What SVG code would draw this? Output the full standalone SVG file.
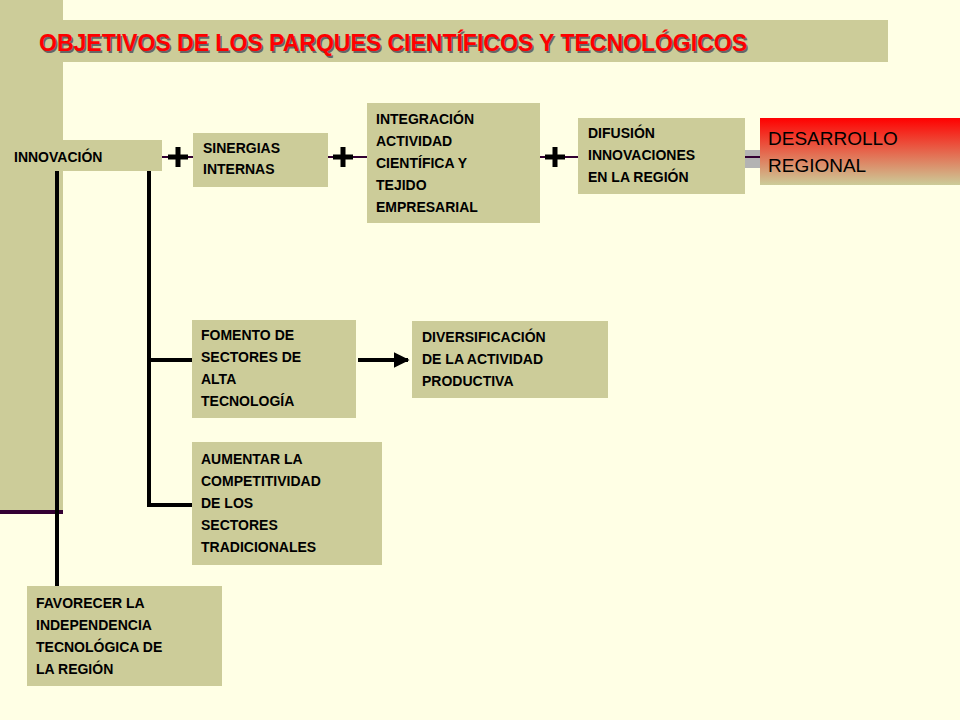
<svg xmlns="http://www.w3.org/2000/svg" width="960" height="720" viewBox="0 0 960 720">
<defs>
<style>
.b{fill:#CCCC99}
.t{font-family:"Liberation Sans",Arial,sans-serif;font-weight:bold;font-size:14px;fill:#000}
.c{stroke:#000;stroke-width:4;fill:none}
.p{stroke:#000;stroke-width:5}
</style>
<linearGradient id="g" x1="0" y1="0" x2="0" y2="1"><stop offset="0" stop-color="#FF0000"/><stop offset="1" stop-color="#CCCC99"/></linearGradient>
<marker id="a" viewBox="0 0 10 10" refX="9" refY="5" markerWidth="4" markerHeight="4" orient="auto"><path d="M0,0L10,5L0,10z" fill="#000"/></marker>
</defs>
<rect width="960" height="720" fill="#FFFFE5"/>
<rect x="0" y="0" width="63" height="512" class="b"/>
<line x1="0" y1="512" x2="63" y2="512" stroke="#330033" stroke-width="4"/>
<g id="title"><rect x="63" y="20" width="825" height="42" class="b"/>
<text x="39" y="51" font-family="Liberation Sans,Arial,sans-serif" font-weight="bold" font-size="23" fill="#666" transform="translate(1.5,1.5)">OBJETIVOS DE LOS PARQUES CIENTÍFICOS Y TECNOLÓGICOS</text>
<text x="39" y="51" font-family="Liberation Sans,Arial,sans-serif" font-weight="bold" font-size="23" fill="#FF0000">OBJETIVOS DE LOS PARQUES CIENTÍFICOS Y TECNOLÓGICOS</text></g>
<g id="connectors">
<line x1="57" y1="171" x2="57" y2="588" class="c"/>
<polyline points="149,171 149,360 192,360" class="c"/>
<polyline points="149,340 149,505 192,505" class="c"/>
<line x1="358" y1="360" x2="408" y2="360" class="c" marker-end="url(#a)"/>
<line x1="162" y1="157" x2="193" y2="157" stroke="#330033" stroke-width="2"/>
<line x1="328" y1="157" x2="367" y2="157" stroke="#330033" stroke-width="2"/>
<line x1="540" y1="157" x2="578" y2="157" stroke="#330033" stroke-width="2"/>
<rect x="745" y="150" width="15" height="18" fill="#B3B3B3"/>
<line x1="745" y1="157" x2="760" y2="157" stroke="#330033" stroke-width="2"/>
<path d="M168,157h20M178,147v20M333,157h20M343,147v20M545,157h20M555,147v20" class="p"/>
</g>
<g id="innovacion"><rect x="0" y="140" width="162" height="31" class="b"/><text class="t" x="14" y="162">INNOVACIÓN</text></g>
<g id="sinergias"><rect x="193" y="133" width="135" height="54" class="b"/><text class="t" x="203" y="153">SINERGIAS</text><text class="t" x="203" y="174">INTERNAS</text></g>
<g id="integracion"><rect x="367" y="103" width="173" height="120" class="b"/>
<text class="t" x="376" y="124">INTEGRACIÓN</text><text class="t" x="376" y="146">ACTIVIDAD</text><text class="t" x="376" y="168">CIENTÍFICA Y</text><text class="t" x="376" y="190">TEJIDO</text><text class="t" x="376" y="212">EMPRESARIAL</text></g>
<g id="difusion"><rect x="578" y="118" width="167" height="76" class="b"/>
<text class="t" x="588" y="138">DIFUSIÓN</text><text class="t" x="588" y="160">INNOVACIONES</text><text class="t" x="588" y="182">EN LA REGIÓN</text></g>
<g id="desarrollo"><rect x="760" y="118" width="200" height="67" fill="url(#g)"/>
<text x="768" y="145" font-family="Liberation Sans,Arial,sans-serif" font-size="19">DESARROLLO</text><text x="768" y="172" font-family="Liberation Sans,Arial,sans-serif" font-size="19">REGIONAL</text></g>
<g id="fomento"><rect x="192" y="320" width="164" height="98" class="b"/>
<text class="t" x="201" y="340">FOMENTO DE</text><text class="t" x="201" y="362">SECTORES DE</text><text class="t" x="201" y="384">ALTA</text><text class="t" x="201" y="406">TECNOLOGÍA</text></g>
<g id="diversificacion"><rect x="412" y="321" width="196" height="77" class="b"/>
<text class="t" x="422" y="342">DIVERSIFICACIÓN</text><text class="t" x="422" y="364">DE LA ACTIVIDAD</text><text class="t" x="422" y="386">PRODUCTIVA</text></g>
<g id="aumentar"><rect x="192" y="442" width="190" height="123" class="b"/>
<text class="t" x="201" y="464">AUMENTAR LA</text><text class="t" x="201" y="486">COMPETITIVIDAD</text><text class="t" x="201" y="508">DE LOS</text><text class="t" x="201" y="530">SECTORES</text><text class="t" x="201" y="552">TRADICIONALES</text></g>
<g id="favorecer"><rect x="27" y="586" width="195" height="100" class="b"/>
<text class="t" x="36" y="608">FAVORECER LA</text><text class="t" x="36" y="630">INDEPENDENCIA</text><text class="t" x="36" y="652">TECNOLÓGICA DE</text><text class="t" x="36" y="674">LA REGIÓN</text></g>
</svg>
